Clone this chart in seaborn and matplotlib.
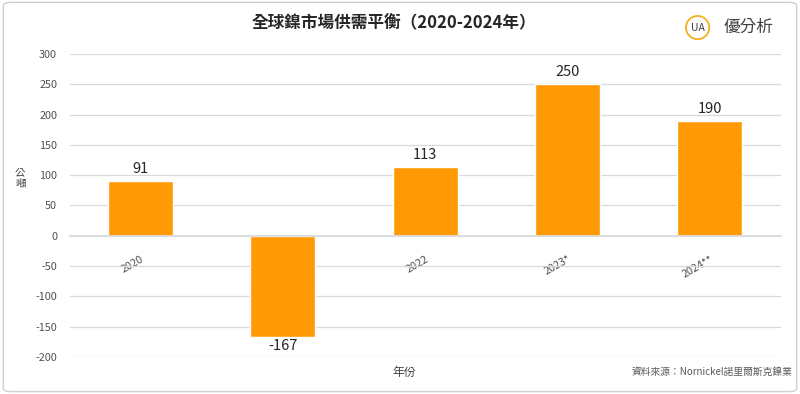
import matplotlib
matplotlib.use("Agg")
import matplotlib.pyplot as plt
import seaborn as sns
import pandas as pd
from matplotlib.patches import FancyBboxPatch, Ellipse

# 데이터
years = ["2020", "2021", "2022", "2023*", "2024**"]
balance = [91, -167, 113, 250, 190]
yticks = [-200, -150, -100, -50, 0, 50, 100, 150, 200, 250, 300]

df = pd.DataFrame({"year": years, "balance": balance})

sns.set_theme(style="white")
plt.rcParams['font.family'] = ['Noto Sans CJK TC', 'DejaVu Sans']
plt.rcParams['axes.unicode_minus'] = False

fig = plt.figure(figsize=(8, 3.94), dpi=100)
ax = fig.add_axes([0.087, 0.094, 0.889, 0.769])

sns.barplot(data=df, x="year", y="balance", color="#FF9A05", saturation=1,
            width=0.457, ax=ax)

ax.set_ylim(-200, 300)
ax.set_yticks(yticks)
ax.set_yticklabels([str(t) for t in yticks], fontsize=7.8, color="#505050")
ax.yaxis.grid(True, color="#d9d9d9", linewidth=0.9)
ax.set_axisbelow(True)
for s in ["top", "right", "left"]:
    ax.spines[s].set_visible(False)
ax.spines["bottom"].set_position(("data", 0))
ax.spines["bottom"].set_color("#d9d9d9")
ax.tick_params(axis="y", length=0, pad=9)
ax.tick_params(axis="x", length=0, pad=13)
for lab in ax.get_xticklabels():
    lab.set_rotation(30)
    lab.set_ha("right")
    lab.set_rotation_mode("anchor")
    lab.set_fontsize(7.8)
    lab.set_color("#505050")

# 막대 위 값
for i, v in enumerate(balance):
    if v >= 0:
        ax.text(i, v + 8, str(v), ha="center", va="bottom", fontsize=10.5, color="#262626")
    else:
        ax.text(i, v - 4, str(v), ha="center", va="top", fontsize=10.5, color="#262626")

ax.set_xlabel("")
ax.set_ylabel("")
fig.text(0.505, 0.055, "年份", ha="center", va="center", fontsize=8.5, color="#404040")
fig.text(0.025, 0.548, "公\n噸", ha="center", va="center", fontsize=7.5, color="#404040",
         linespacing=1.1)
fig.text(0.99, 0.055, "資料來源：Nornickel諾里爾斯克鎳業", ha="right", va="center",
         fontsize=7, color="#595959")

fig.text(0.493, 0.944, "全球鎳市場供需平衡（2020-2024年）", ha="center", va="center",
         fontsize=12, color="#262626", fontweight="bold")

# 로고
fig.patches.append(Ellipse((0.872, 0.93), 0.029, 0.059, transform=fig.transFigure,
                           fill=False, edgecolor="#F2B01E", linewidth=1.3))
fig.text(0.872, 0.93, "UA", ha="center", va="center", fontsize=7.5, color="#404040")
fig.text(0.935, 0.93, "優分析", ha="center", va="center", fontsize=12, color="#404040")

# 테두리
fig.patches.append(FancyBboxPatch((0.004, 0.006), 0.992, 0.988,
                                  boxstyle="round,pad=0,rounding_size=0.01",
                                  transform=fig.transFigure, fill=False,
                                  edgecolor="#d0d0d0", linewidth=1))

fig.savefig("out.png", dpi=100)
